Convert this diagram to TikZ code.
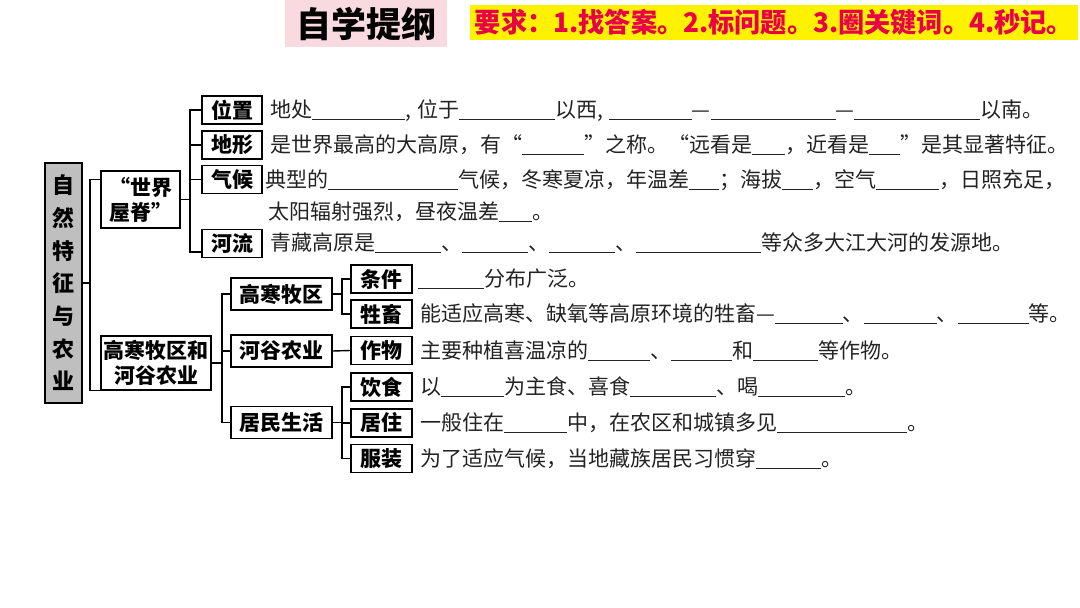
\documentclass[tikz,border=0pt]{standalone}
\usepackage{fontspec}
\setmainfont{Noto Sans CJK SC}
\usetikzlibrary{calc}
\definecolor{pinkbg}{RGB}{249,218,224}
\definecolor{reqred}{RGB}{232,0,72}
\definecolor{rootgray}{RGB}{191,191,191}
\definecolor{txtc}{RGB}{35,35,35}
\newcommand\bl[1]{\rule[-2.5pt]{#1pt}{0.9pt}}
\begin{document}
\begin{tikzpicture}[x=1pt,y=-1pt,
  bx/.style={draw, line width=1.4pt, inner sep=0pt, font=\bfseries\fontsize{21}{25}\selectfont, align=center},
  lv2/.style={bx, minimum width=60, minimum height=28},
  lv2b/.style={bx, minimum width=101, minimum height=32},
  lv3/.style={bx, minimum width=61, minimum height=28},
  tx/.style={anchor=base west, inner sep=0pt, text=txtc, font=\fontsize{21}{25}\selectfont},
  ln/.style={line width=1.4pt}]
\useasboundingbox (0,0) rectangle (1080,608);
\fill[white] (0,0) rectangle (1080,608);

% header
\node[fill=pinkbg, minimum width=162, minimum height=47, inner sep=0pt,
      font=\bfseries\fontsize{35}{35}\selectfont] (title) at (366,23.5) {自学提纲};
\node[fill=yellow, text=reqred, minimum width=608, minimum height=35, inner sep=0pt,
      font=\bfseries\fontsize{27}{27}\selectfont] (req) at (774,22.5) {\scalebox{0.97}[1]{要求：1.找答案。2.标问题。3.圈关键词。4.秒记。}};

% root
\node[bx, fill=rootgray, minimum width=37, minimum height=240,
      font=\bfseries\fontsize{22}{32.7}\selectfont] (root) at (63.5,283) {自\\然\\特\\征\\与\\农\\业};

% level 1
\node[bx, minimum width=79, minimum height=57] (sj) at (140.5,199.5) {“世界\\屋脊”};
\node[bx, minimum width=110, minimum height=54] (hh) at (156,363) {高寒牧区和\\河谷农业};

% level 2 (world roof)
\node[lv2] (wz) at (232,110) {位置};
\node[lv2] (dx) at (232,145) {地形};
\node[lv2] (qh) at (232,179.5) {气候};
\node[lv2] (hl) at (232,243.5) {河流};

% level 2 (agriculture)
\node[lv2b] (gh) at (281.5,294) {高寒牧区};
\node[lv2b] (hg) at (281.5,351) {河谷农业};
\node[lv2b] (jm) at (281.5,422.5) {居民生活};

% level 3
\node[lv3] (tj) at (381.5,279) {条件};
\node[lv3] (sc) at (381.5,314) {牲畜};
\node[lv3] (zw) at (381.5,350.5) {作物};
\node[lv3] (ys) at (381.5,387) {饮食};
\node[lv3] (jz) at (381.5,423) {居住};
\node[lv3] (fz) at (381.5,458.5) {服装};

% junction coordinates
\coordinate (j1) at (90,0);
\coordinate (j2) at (190,0);
\coordinate (j3) at (222,0);
\coordinate (j4) at (342,0);
\coordinate (sjin) at ($(sj.north west)!0.16!(sj.south west)$);
\coordinate (hlin) at ($(hl.west)+(0,8.5)$);

% connectors
\draw[ln] (root.east) -- (root.east -| j1);
\draw[ln] (sjin) -- (sjin -| j1) -- (hh.south west -| j1) -- (hh.south west);

\draw[ln] (sj.east) -- (sj.east -| j2);
\draw[ln] (wz.west) -- (wz.west -| j2) -- (hlin -| j2) -- (hlin);
\draw[ln] (dx.west) -- (dx.west -| j2);
\draw[ln] (qh.west) -- (qh.west -| j2);

\draw[ln] (hh.east) -- (hh.east -| j3);
\draw[ln] (gh.west) -- (gh.west -| j3) -- (jm.west -| j3) -- (jm.west);
\draw[ln] (hg.west) -- (hg.west -| j3);

\draw[ln] (gh.east) -- (gh.east -| j4);
\draw[ln] (tj.west) -- (tj.west -| j4) -- (sc.west -| j4) -- (sc.west);
\draw[ln] (hg.east) -- (zw.west);
\draw[ln] (jm.east) -- (jm.east -| j4);
\draw[ln] (ys.west) -- (ys.west -| j4) -- (fz.west -| j4) -- (fz.west);
\draw[ln] (jz.west) -- (jz.west -| j4);

% text lines
\node[tx] (t1) at (270,117.5) {地处\bl{93},\hspace{6pt}位于\bl{96}以西,\hspace{6pt}\bl{83}—\bl{125}—\bl{126}以南。};
\node[tx] (t2) at (270,152.5) {是世界最高的大高原，有“\bl{62}”之称。“远看是\bl{33}，近看是\bl{31}”是其显著特征。};
\node[tx] (t3) at (265,187) {典型的\bl{130}气候，冬寒夏凉，年温差\bl{30}；海拔\bl{31}，空气\bl{63}，日照充足，};
\node[tx] (t4) at (268,219.5) {太阳辐射强烈，昼夜温差\bl{33}。};
\node[tx] (t5) at (270,250.5) {青藏高原是\bl{66}、\bl{66}、\bl{66}、\bl{125}等众多大江大河的发源地。};

\node[tx] (r1) at (418,286.5) {\bl{66}分布广泛。};
\node[tx] (r2) at (420,321.5) {能适应高寒、缺氧等高原环境的牲畜—\bl{68}、\bl{73}、\bl{71}等。};
\node[tx] (r3) at (420,358) {主要种植喜温凉的\bl{62}、\bl{61}和\bl{65}等作物。};
\node[tx] (r4) at (420,394.5) {以\bl{63}为主食、喜食\bl{86}、喝\bl{87}。};
\node[tx] (r5) at (420,430.5) {一般住在\bl{63}中，在农区和城镇多见\bl{130}。};
\node[tx] (r6) at (420,466) {为了适应气候，当地藏族居民习惯穿\bl{65}。};
\end{tikzpicture}
\end{document}
